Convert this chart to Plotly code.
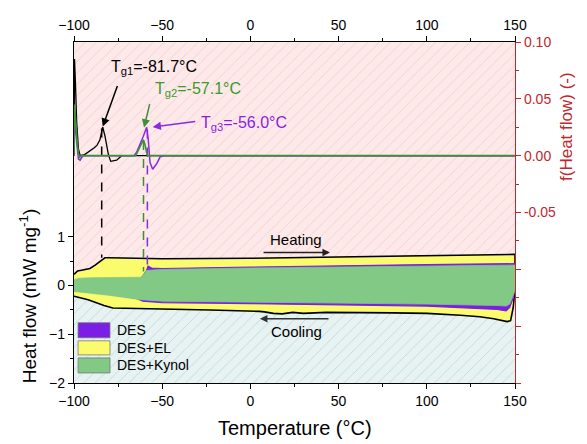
import plotly.graph_objects as go

# ---------------- data ----------------
# DES+EL (yellow, black outline) heat flow loop
el_heat_T = [-100, -98, -95, -91, -88, -85, -82.5, -80, -70, -50, 0, 50, 100, 150]
el_heat = [0.23, 0.30, 0.32, 0.35, 0.42, 0.50, 0.57, 0.57, 0.56, 0.55, 0.56, 0.59, 0.62, 0.64]
el_cool_T = [150, 149, 147.5, 145.5, 138, 130, 119, 100, 81, 62, 43, 30, 24, 18, 13, 8, 5, -23, -51, -78, -83, -92, -100]
el_cool = [-0.05, -0.45, -0.72, -0.74, -0.68, -0.64, -0.61, -0.57, -0.56, -0.55, -0.55, -0.57, -0.55, -0.58, -0.57,
           -0.54, -0.53, -0.50, -0.48, -0.46, -0.41, -0.29, -0.22]

# DES (purple) heat flow loop
des_heat_T = [-100, -80, -62, -59, -58, -56, -50, 0, 50, 100, 150]
des_heat = [0.10, 0.13, 0.15, 0.30, 0.40, 0.36, 0.35, 0.38, 0.41, 0.43, 0.45]
des_cool_T = [150, 149, 147, 145, 140, 100, 50, 0, -50, -61, -65, -80, -100]
des_cool = [-0.08, -0.25, -0.45, -0.52, -0.49, -0.42, -0.39, -0.37, -0.35, -0.32, -0.26, -0.18, -0.09]

# DES+Kynol (green) heat flow loop
ky_heat_T = [-100, -97, -90, -62, -60, -59, -55, -50, 0, 50, 100, 150]
ky_heat = [0.12, 0.15, 0.16, 0.17, 0.25, 0.31, 0.32, 0.33, 0.36, 0.38, 0.40, 0.42]
ky_cool_T = [150, 149, 147, 145, 140, 100, 50, 0, -50, -62, -80, -100]
ky_cool = [-0.08, -0.20, -0.38, -0.42, -0.41, -0.38, -0.36, -0.34, -0.32, -0.29, -0.20, -0.12]

# derivative curves f(Heat flow)
el_d_T = [-100, -99.7, -99.2, -98.5, -97.5, -96.5, -94, -91, -88.5, -87, -85.3, -83.7, -82.4, -80.5, -79.2, -75.8, -73, 150]
el_d = [0.0, 0.085, 0.065, 0.03, 0.006, 0.0, 0.001, 0.004, 0.007, 0.009, 0.014, 0.025, 0.017, 0.001, -0.005, -0.004, 0.0, 0.0]
des_d_T = [-100, -99.7, -99, -97.5, -96.5, -95, -66, -64.5, -60.7, -58.8, -57.9, -56.9, -55.4, -53.1, -51.2, -49, 150]
des_d = [0.0, 0.04, 0.02, -0.003, -0.004, 0.0, 0.0, 0.003, 0.017, 0.025, 0.014, -0.006, -0.012, -0.007, -0.001, 0.0, 0.0]
ky_d_T = [-100, -99.7, -99, -98, -97, -96, -65, -62.6, -60.7, -59.8, -58.4, -57, 150]
ky_d = [0.0, 0.045, 0.03, 0.008, -0.002, 0.0, 0.0, 0.008, 0.014, 0.010, 0.0, 0.0, 0.0]

# glass transition markers
tg_T = [-84.3, -60.6, -58.4]
tg_top_f = [0.024, 0.013, 0.023]
tg_bottom_hf = [0.57, 0.29, 0.39]
tg_labels = ["T<sub>g1</sub>=-81.7°C", "T<sub>g2</sub>=-57.1°C", "T<sub>g3</sub>=-56.0°C"]

legend_names = ["DES", "DES+EL", "DES+Kynol"]

x_ticks = [-100, -50, 0, 50, 100, 150]
y_ticks = [-2, -1, 0, 1]
y2_ticks = [-0.2, -0.15, -0.1, -0.05, 0.0, 0.05, 0.1]
y2_ticktext = ["", "", "", "-0.05", "0.00", "0.05", "0.10"]

# ---------------- style ----------------
PURPLE = "#7b1fe6"
YELLOW = "#fbfb6e"
GREEN = "#82c986"
DGREEN = "#3f8f3a"
RED = "#c0282d"
FONT = "Liberation Sans"

Y_RANGE = [-2, 5]
Y2_RANGE = [-0.2, 0.1]


def f_to_hf(f):
    return Y_RANGE[0] + (Y_RANGE[1] - Y_RANGE[0]) * (f - Y2_RANGE[0]) / (Y2_RANGE[1] - Y2_RANGE[0])


fig = go.Figure()

# hatched backgrounds
fig.add_trace(go.Scatter(x=[-100, 150, 150, -100, -100], y=[0, 0, 5, 5, 0], fill="toself", mode="lines",
                         line=dict(width=0), fillcolor="#fde8e8",
                         fillpattern=dict(shape="/", size=8, solidity=0.1, bgcolor="#fde9e9", fgcolor="#f4caca",
                                          fillmode="replace"),
                         showlegend=False, hoverinfo="skip"))
fig.add_trace(go.Scatter(x=[-100, 150, 150, -100, -100], y=[-2, -2, 0, 0, -2], fill="toself", mode="lines",
                         line=dict(width=0), fillcolor="#e6f2f2",
                         fillpattern=dict(shape="/", size=8, solidity=0.1, bgcolor="#e7f2f2", fgcolor="#c0d5d8",
                                          fillmode="replace"),
                         showlegend=False, hoverinfo="skip"))


def loop(hT, h, cT, c):
    return hT + cT, h + c


x, y = loop(el_heat_T, el_heat, el_cool_T, el_cool)
fig.add_trace(go.Scatter(x=x, y=y, fill="toself", fillcolor=YELLOW, mode="lines",
                         line=dict(color="black", width=1.6), showlegend=False))
x, y = loop(des_heat_T, des_heat, des_cool_T, des_cool)
fig.add_trace(go.Scatter(x=x, y=y, fill="toself", fillcolor=PURPLE, mode="lines",
                         line=dict(color=PURPLE, width=1.2), showlegend=False))
x, y = loop(ky_heat_T, ky_heat, ky_cool_T, ky_cool)
fig.add_trace(go.Scatter(x=x, y=y, fill="toself", fillcolor=GREEN, mode="lines",
                         line=dict(color=GREEN, width=0.8), showlegend=False))

# dashed Tg lines
for T, ft, hb, col in zip(tg_T, tg_top_f, tg_bottom_hf, ["black", DGREEN, "#8a2be2"]):
    fig.add_trace(go.Scatter(x=[T, T], y=[f_to_hf(ft), hb], mode="lines",
                             line=dict(color=col, width=1.5, dash="dash"), showlegend=False))

# derivative curves on right axis
fig.add_trace(go.Scatter(x=el_d_T, y=el_d, yaxis="y2", mode="lines", line=dict(color="black", width=1.3),
                         showlegend=False))
fig.add_trace(go.Scatter(x=des_d_T, y=des_d, yaxis="y2", mode="lines", line=dict(color="#8a2be2", width=1.5),
                         showlegend=False))
fig.add_trace(go.Scatter(x=ky_d_T, y=ky_d, yaxis="y2", mode="lines", line=dict(color=DGREEN, width=1.6),
                         showlegend=False))

# dummy trace for top axis
fig.add_trace(go.Scatter(x=[-100, 150], y=[0, 0], xaxis="x2", mode="markers", marker=dict(opacity=0),
                         showlegend=False, hoverinfo="skip"))

ann = []
# Tg arrows
arrow_specs = [
    (-83.7, 0.0256, -75.1, 0.0626, "black"),
    (-60.3, 0.0247, -56.9, 0.0467, DGREEN),
    (-55.4, 0.0253, -30.4, 0.0303, "#8a2be2"),
]
for hx, hy, tx, ty, col in arrow_specs:
    ann.append(dict(x=hx, y=hy, xref="x", yref="y2", ax=tx, ay=ty, axref="x", ayref="y2", text="",
                    showarrow=True, arrowhead=2, arrowsize=1.1, arrowwidth=1.5, arrowcolor=col))
# Tg texts
ann.append(dict(x=-54.6, y=0.0776, xref="x", yref="y2", text=tg_labels[0], showarrow=False,
                font=dict(family=FONT, size=16, color="black")))
ann.append(dict(x=-29.7, y=0.0582, xref="x", yref="y2", text=tg_labels[1], showarrow=False,
                font=dict(family=FONT, size=16, color="#3a9a2a")))
ann.append(dict(x=-29.0, y=0.028, xref="x", yref="y2", text=tg_labels[2], showarrow=False, xanchor="left",
                font=dict(family=FONT, size=16, color="#8a1ee0")))

# Heating / Cooling
ann.append(dict(x=45.1, y=0.68, ax=6.6, ay=0.68, xref="x", yref="y", axref="x", ayref="y", text="",
                showarrow=True, arrowhead=2, arrowsize=1, arrowwidth=1.5, arrowcolor="#222"))
ann.append(dict(x=25.9, y=0.95, xref="x", yref="y", text="Heating", showarrow=False,
                font=dict(family=FONT, size=15, color="black")))
ann.append(dict(x=5.4, y=-0.68, ax=45.1, ay=-0.68, xref="x", yref="y", axref="x", ayref="y", text="",
                showarrow=True, arrowhead=2, arrowsize=1, arrowwidth=1.5, arrowcolor="#333"))
ann.append(dict(x=26.4, y=-0.95, xref="x", yref="y", text="Cooling", showarrow=False,
                font=dict(family=FONT, size=15, color="black")))

# manual legend
shapes = []
sw = [(-0.763, -1.072, PURPLE), (-1.134, -1.423, YELLOW), (-1.485, -1.794, GREEN)]
for (ya, yb, col), name in zip(sw, legend_names):
    shapes.append(dict(type="rect", xref="x", yref="y", x0=-97.7, x1=-79.6, y0=yb, y1=ya,
                       fillcolor=col, line=dict(color="#777", width=0.8)))
    ann.append(dict(x=-77.0, y=(ya + yb) / 2, xref="x", yref="y", text=name, showarrow=False, xanchor="left",
                    font=dict(family=FONT, size=14, color="black")))

# axis titles
ann.append(dict(x=-0.104, y=0.255, xref="paper", yref="paper", text="Heat flow (mW mg<sup>-1</sup>)",
                xanchor="center", yanchor="middle",
                textangle=-90, showarrow=False, font=dict(family=FONT, size=19, color="black")))
ann.append(dict(x=1.118, y=0.751, xref="paper", yref="paper", text="f(Heat flow) (-)",
                xanchor="center", yanchor="middle",
                textangle=-90, showarrow=False, font=dict(family=FONT, size=17, color=RED)))
ann.append(dict(x=0.501, y=-0.132, xref="paper", yref="paper", text="Temperature (°C)",
                xanchor="center", yanchor="middle",
                showarrow=False, font=dict(family=FONT, size=20, color="black")))

xax = dict(range=[-100, 150], tickvals=x_ticks, ticks="outside", ticklen=5, tickwidth=1.2, tickcolor="black",
           minor=dict(tickvals=[-75, -25, 25, 75, 125], ticks="outside", ticklen=3, tickcolor="black"),
           showline=True, linecolor="black", linewidth=1.3, showgrid=False, zeroline=False, automargin=False,
           tickfont=dict(family=FONT, size=14, color="black"))

fig.update_layout(
    width=579, height=436,
    margin=dict(l=66, r=72, t=34, b=61),
    paper_bgcolor="white", plot_bgcolor="white",
    showlegend=False,
    xaxis=xax,
    xaxis2=dict(xax, overlaying="x", side="top", anchor="y"),
    yaxis=dict(range=Y_RANGE, tickvals=y_ticks, ticks="outside", ticklen=5, tickwidth=1.2, tickcolor="black",
               minor=dict(tickvals=[-1.5, -0.5, 0.5], ticks="outside", ticklen=3, tickcolor="black"),
               showline=True, linecolor="black", linewidth=1.3, showgrid=False, zeroline=False, automargin=False,
               tickfont=dict(family=FONT, size=14, color="black")),
    yaxis2=dict(range=Y2_RANGE, overlaying="y", side="right", tickvals=y2_ticks, ticktext=y2_ticktext,
                ticks="outside", ticklen=5, tickwidth=1.2, tickcolor=RED,
                minor=dict(tickvals=[-0.175, -0.125, -0.075, -0.025, 0.025, 0.075], ticks="outside", ticklen=3,
                           tickcolor=RED),
                showline=True, linecolor=RED, linewidth=1.3, showgrid=False, zeroline=False, automargin=False,
                tickfont=dict(family=FONT, size=14, color=RED)),
    annotations=ann,
    shapes=shapes,
)

fig.write_html("out.html")
